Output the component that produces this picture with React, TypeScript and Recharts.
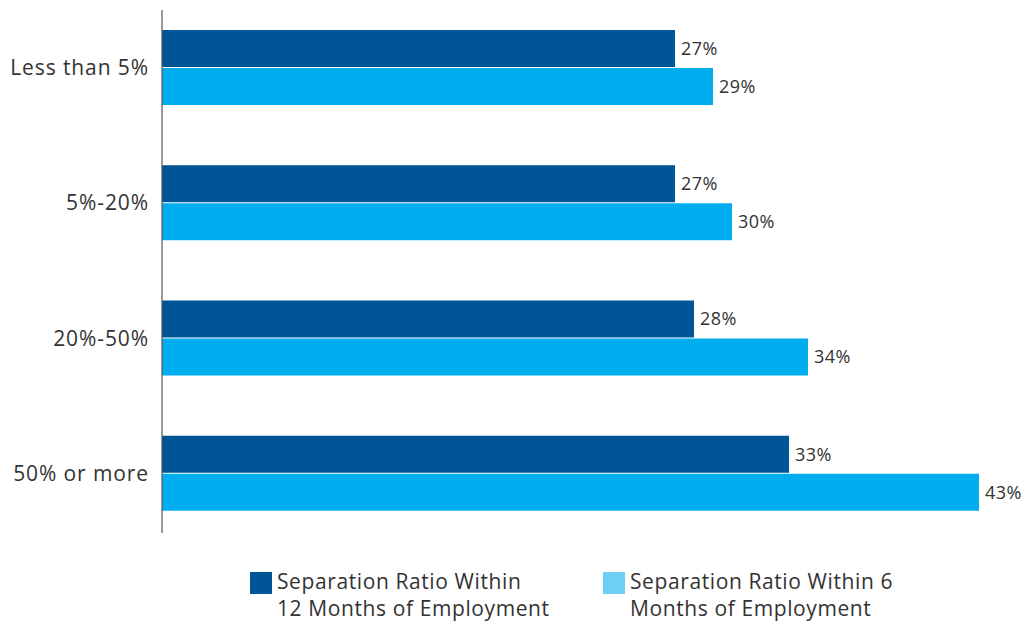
import React from 'react';
import {
  BarChart,
  Bar,
  XAxis,
  YAxis,
  Legend,
  LabelList,
  ReferenceLine
} from 'recharts';

const categories = ['Less than 5%', '5%-20%', '20%-50%', '50% or more'];
const within12Months = [27, 27, 28, 33];
const within6Months = [29, 30, 34, 43];

const series = [
  { key: 'm12', name: 'Separation Ratio Within 12 Months of Employment', lines: ['Separation Ratio Within', '12 Months of Employment'], fill: '#005596', swatch: '#005596', left: 250 },
  { key: 'm6', name: 'Separation Ratio Within 6 Months of Employment', lines: ['Separation Ratio Within 6', 'Months of Employment'], fill: '#00AEEF', swatch: '#6DCFF6', left: 603 }
];

const chartData = categories.map((name, i) => ({
  name,
  m12: within12Months[i],
  m6: within6Months[i]
}));

const FONT = '"Open Sans", sans-serif';

function ChartLegend() {
  return (
    <div style={{ position: 'relative', height: 54, fontFamily: FONT, fontSize: 21, letterSpacing: 0.6, color: '#333', lineHeight: '27px' }}>
      {series.map(s => (
        <div key={s.key} style={{ position: 'absolute', top: 0, left: s.left, display: 'flex', alignItems: 'flex-start' }}>
          <div style={{ width: 22, height: 22, background: s.swatch, marginTop: 4, marginRight: 5 }} />
          <div style={{ whiteSpace: 'nowrap' }}>
            {s.lines.map(l => (
              <div key={l}>{l}</div>
            ))}
          </div>
        </div>
      ))}
    </div>
  );
}

export default function App() {
  return (
    <div style={{ position: 'absolute', left: 0, top: 0, background: '#fff' }}>
      <BarChart
        width={1029}
        height={623}
        data={chartData}
        layout="vertical"
        margin={{ top: 0, right: 12, left: 0, bottom: 28 }}
        barCategoryGap="23%"
        barGap={1}
      >
        <XAxis type="number" domain={[0, 45]} hide />
        <YAxis
          type="category"
          dataKey="name"
          width={162}
          axisLine={false}
          tickLine={false}
          tickSize={0}
          tickMargin={13}
          tick={{ fontSize: 21, fill: '#333', fontFamily: FONT, letterSpacing: 0.9 }}
        />
        {series.map(s => (
          <Bar key={s.key} dataKey={s.key} name={s.name} fill={s.fill} barSize={37} isAnimationActive={false}>
            <LabelList
              dataKey={s.key}
              position="right"
              offset={6}
              formatter={(v: number) => `${v}%`}
              style={{ fontSize: 18, fill: '#333', fontFamily: FONT, letterSpacing: 0.5 }}
            />
          </Bar>
        ))}
        <ReferenceLine
          x={0}
          stroke="#555"
          shape={(p: any) => (
            <line
              x1={p.x1}
              y1={Math.min(p.y1, p.y2) + 10}
              x2={p.x2}
              y2={Math.max(p.y1, p.y2) - 8}
              stroke="#555"
              strokeWidth={1.2}
            />
          )}
        />
        <Legend
          verticalAlign="bottom"
          content={() => <ChartLegend />}
          wrapperStyle={{ top: 568, left: 0, width: 1029, height: 54 }}
        />
      </BarChart>
    </div>
  );
}
